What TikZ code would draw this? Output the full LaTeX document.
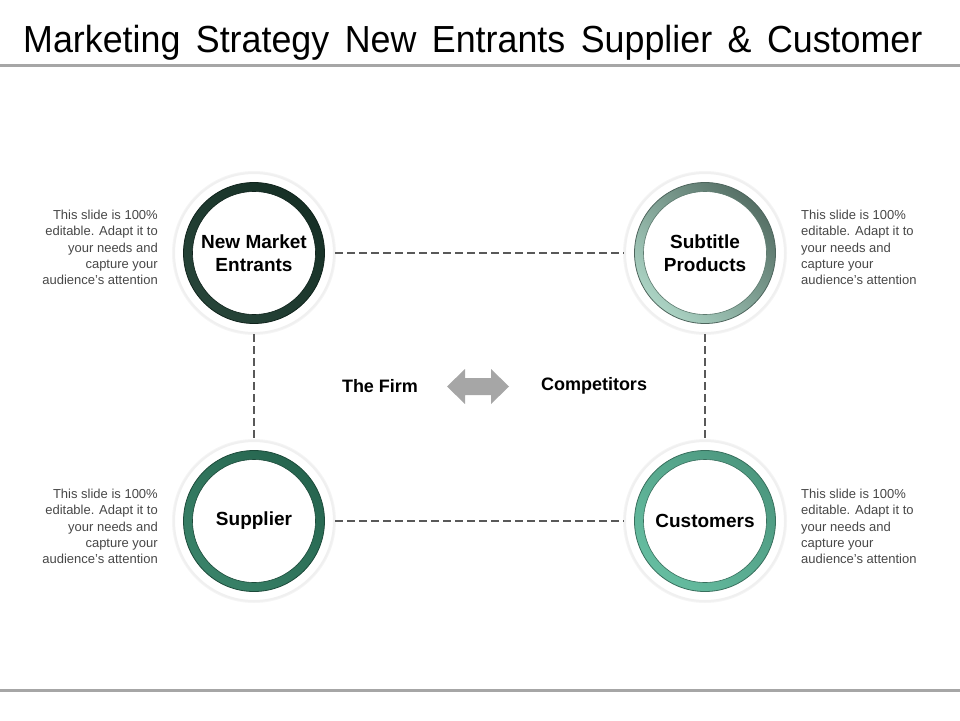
\documentclass[tikz,border=0pt]{standalone}
\usepackage{fontspec}
\setmainfont{Liberation Sans}
\newfontfamily\titlefont[FakeStretch=0.95]{Liberation Sans}
\definecolor{cA}{HTML}{1B3A2E}
\definecolor{cB}{HTML}{9CCBB9}
\definecolor{cC}{HTML}{2E7B60}
\definecolor{cD}{HTML}{5DB99B}
\definecolor{rulegray}{HTML}{A6A6A6}
\definecolor{dashgray}{HTML}{595959}
\tikzset{
  halo/.style={circle, minimum size=160pt, inner sep=0pt, fill=white, draw=black!6, line width=2pt},
  ringc/.style={even odd rule, right color=#1!95!white, left color=#1!82!black, shading angle=-45},
  ringsp/.style={even odd rule, right color=cB!85!white, left color=cB!55!black, shading angle=-45},
  conn/.style={dashgray, line width=2pt, dash pattern=on 8pt off 4pt},
  side/.style={font=\fontsize{13}{16.2}\selectfont, text=black!72, inner sep=0pt},
  midlbl/.style={font=\bfseries\fontsize{18}{20}\selectfont, inner sep=0pt},
  circlbl/.style={font=\bfseries\fontsize{19}{23}\selectfont, align=center, inner sep=0pt},
}
\begin{document}
\begin{tikzpicture}[x=1pt,y=-1pt]
\useasboundingbox (0,0) rectangle (960,720);
% title and rules
\node[anchor=base west, inner sep=0pt, font=\titlefont\fontsize{37.7}{40}\selectfont] (title) at (23,52.7) {Marketing\hspace{15.5pt}Strategy\hspace{15.5pt}New\hspace{15.5pt}Entrants\hspace{15.5pt}Supplier\hspace{15.5pt}\&\hspace{15.5pt}Customer};
\fill[rulegray] (0,64) rectangle (960,67);
\fill[rulegray] (0,689) rectangle (960,692);
% halos
\foreach \x/\y in {254/253, 705/253, 254/521, 705/521}{
  \fill[black!4] (\x,\y) circle (82);
}
\node[halo] (nme) at (254,253) {};
\node[halo] (sp) at (705,253) {};
\node[halo] (sup) at (254,521) {};
\node[halo] (cus) at (705,521) {};
% rings
\foreach \n/\c in {nme/cA, sup/cC, cus/cD}{
  \shade[ringc=\c] (\n.center) circle (70.5) circle (61.5);
  \draw[\c!60!black, line width=0.8pt] (\n.center) circle (70.5);
  \draw[\c!60!black, line width=0.6pt] (\n.center) circle (61.5);
}
\shade[ringsp] (sp.center) circle (70.5) circle (61.5);
\draw[cB!50!black, line width=0.8pt] (sp.center) circle (70.5);
\draw[cB!60!black, line width=0.6pt] (sp.center) circle (61.5);
% labels
\node[circlbl] (nmel) at (nme.center) {New Market\\Entrants};
\node[circlbl] (spl) at (sp.center) {Subtitle\\Products};
\node[circlbl] (supl) at (sup.center) {Supplier};
\node[circlbl] (cusl) at (cus.center) {Customers};
% connectors
\draw[conn] (nme.east) -- (sp.west);
\draw[conn] (sup.east) -- (cus.west);
\draw[conn] (nme.south) -- (sup.north);
\draw[conn] (sp.south) -- (cus.north);
% middle
\node[midlbl] (firm) at (380,386) {The Firm};
\node[midlbl] (comp) at (594,386) {Competitors};
\fill[rulegray] (447,386.5) -- (465,369) -- (465,378) -- (491,378) -- (491,369) -- (509,386.5) -- (491,404) -- (491,395) -- (465,395) -- (465,404) -- cycle;
% side texts
\node[side, align=right, anchor=north east] (t1) at (158,210) {This slide is 100\%\\editable. Adapt it to\\your needs and\\capture your\\audience's attention};
\node[side, align=left, anchor=north west] (t2) at (801,210) {This slide is 100\%\\editable. Adapt it to\\your needs and\\capture your\\audience's attention};
\node[side, align=right, anchor=north east] (t3) at (158,489) {This slide is 100\%\\editable. Adapt it to\\your needs and\\capture your\\audience's attention};
\node[side, align=left, anchor=north west] (t4) at (801,489) {This slide is 100\%\\editable. Adapt it to\\your needs and\\capture your\\audience's attention};
\end{tikzpicture}
\end{document}
